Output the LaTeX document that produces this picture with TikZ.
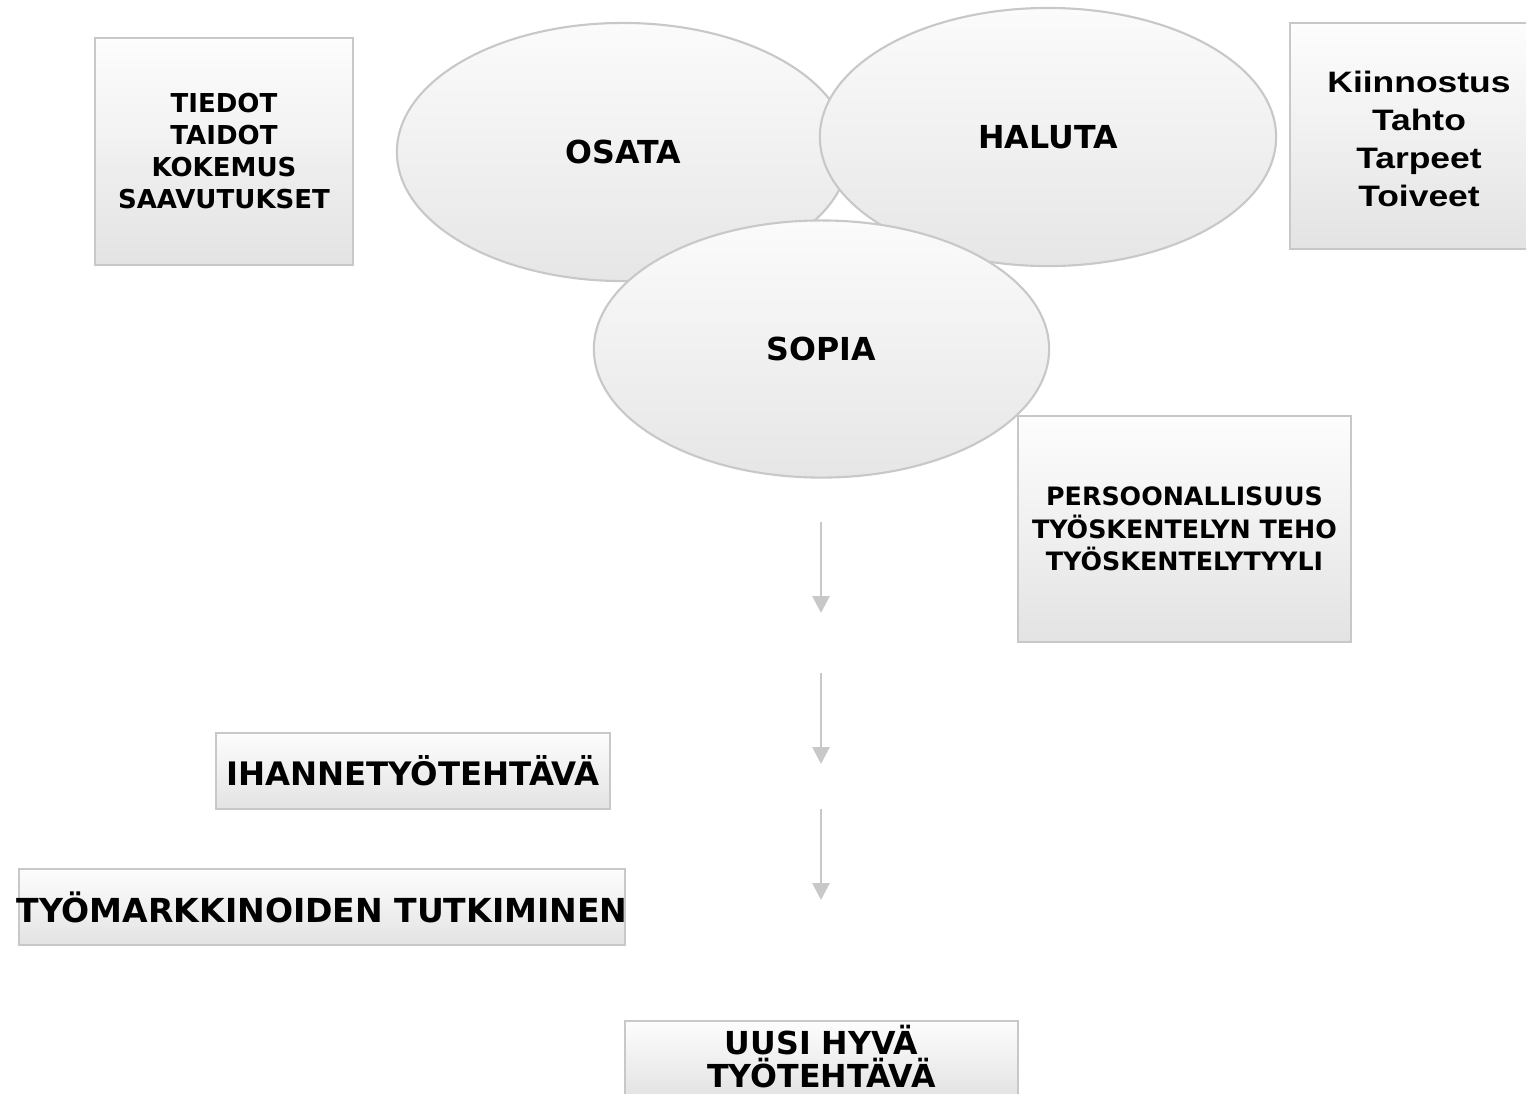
\documentclass[tikz,border=0pt]{standalone}
\usepackage{fontspec}
\setmainfont{DejaVu Sans}
\newfontfamily\arialb{Liberation Sans Bold}[FakeStretch=1.2]
\usetikzlibrary{shapes.geometric,arrows.meta}
\definecolor{edgegray}{HTML}{C8C8C8}
\definecolor{shadebot}{HTML}{E3E3E3}
\definecolor{shadetop}{HTML}{FDFDFD}
\definecolor{ovalbot}{HTML}{E6E6E6}
\definecolor{ovaltop}{HTML}{FBFBFB}
\begin{document}
\begin{tikzpicture}[x=0.01cm,y=-0.01cm,
  box/.style={rectangle,draw=edgegray,line width=0.6pt,top color=shadetop,bottom color=shadebot,inner sep=0pt,align=center},
  oval/.style={ellipse,draw=edgegray,line width=0.6pt,top color=ovaltop,bottom color=ovalbot,inner sep=0pt,align=center,
    font=\fontsize{9}{11}\selectfont\bfseries},
  flow/.style={draw=edgegray,line width=0.8pt,-{Triangle[width=4.8pt,length=4.8pt]}},
  smalltxt/.style={font=\fontsize{7.4}{9.1}\selectfont\bfseries}]
\useasboundingbox (0,0) rectangle (1526,1093);
\fill[white] (0,0) rectangle (1526,1093);

% ovals
\node[oval,minimum width=4.52cm,minimum height=2.58cm] (osata) at (623,152) {OSATA};
\node[oval,minimum width=4.56cm,minimum height=2.58cm] (haluta) at (1048,137) {HALUTA};
\node[oval,minimum width=4.55cm,minimum height=2.57cm] (sopia) at (821.5,349) {SOPIA};

% boxes
\node[box,smalltxt,minimum width=2.58cm,minimum height=2.27cm] (tiedot) at (224,151.5)
  {TIEDOT\\TAIDOT\\KOKEMUS\\SAAVUTUKSET};
\node[box,minimum width=2.58cm,minimum height=2.26cm] (kiinnostus) at (1419,136) {};
\node[inner sep=0pt,align=center,font=\arialb\fontsize{8.4}{10.75}\selectfont] (kiinnostustxt) at (1419,139)
  {Kiinnostus\\Tahto\\Tarpeet\\Toiveet};
\node[box,minimum width=3.33cm,minimum height=2.26cm,font=\fontsize{7.2}{9.25}\selectfont\bfseries] (persoona) at (1184.5,529)
  {PERSOONALLISUUS\\TYÖSKENTELYN TEHO\\TYÖSKENTELYTYYLI};
\node[box,minimum width=3.94cm,minimum height=0.76cm,font=\fontsize{9.2}{11}\selectfont\bfseries] (ihanne) at (413,771)
  {IHANNETYÖTEHTÄVÄ};
\node[box,minimum width=6.06cm,minimum height=0.76cm] (markkinat) at (322,907) {};
\node[font=\fontsize{9.4}{11}\selectfont\bfseries,inner sep=0pt] (markkinatxt) at (markkinat.center) {TYÖMARKKINOIDEN TUTKIMINEN};
\node[box,minimum width=3.93cm,minimum height=0.76cm] (uusi) at (821.5,1059) {};
\node[inner sep=0pt,align=center,font=\fontsize{9}{9.4}\selectfont\bfseries] (uusitxt) at (821.5,1057)
  {UUSI HYVÄ\\TYÖTEHTÄVÄ};

% arrows
\coordinate (a1s) at (821,522);
\coordinate (a1e) at (821,613);
\coordinate (a2s) at (821,673);
\coordinate (a2e) at (821,764);
\coordinate (a3s) at (821,809);
\coordinate (a3e) at (821,900);
\draw[flow] (a1s) -- (a1e);
\draw[flow] (a2s) -- (a2e);
\draw[flow] (a3s) -- (a3e);
\end{tikzpicture}
\end{document}
